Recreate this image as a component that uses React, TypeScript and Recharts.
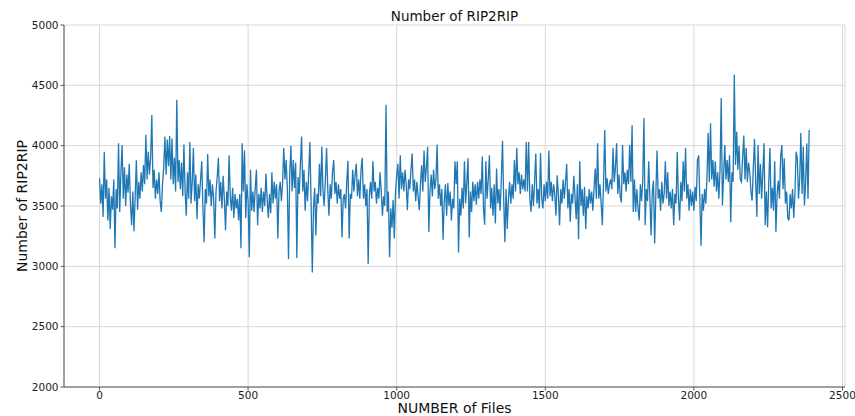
import { LineChart, Line, XAxis, YAxis, CartesianGrid } from 'recharts';

// values, one every FILE_STEP files
const FILE_STEP = 4;

const seg0 = [
	3730, 3520, 3680, 3410, 3950, 3560, 3720, 3380, 3650, 3310, 3580, 3470, 3720, 3150, 3640,
	3480, 4020, 3450, 3780, 4005, 3560, 3820, 3500, 3760, 3610, 3850, 3520, 3340, 3620, 3290,
	3580, 3880, 3470, 3700, 3560, 3780, 3620, 3840, 3680, 4090, 3720, 3950, 3760, 3900, 4255,
	3650, 3800, 3560, 3720, 3600, 3780, 3540, 3450, 3680, 3820, 4075, 3760, 4050, 3830, 4080,
];
const seg1 = [
	3720, 4060, 3680, 3900, 3620, 4380, 3700, 3880, 3640, 3860, 3580, 4010, 3620, 3420, 3780,
	3560, 4030, 3520, 3700, 3980, 3540, 3760, 3390, 3680, 3560, 3720, 3870, 3480, 3200, 3640,
	3520, 3930, 3580, 3720, 3500, 3680, 3560, 3230, 3620, 3740, 3900, 3540, 3700, 3480, 3750,
	3560, 3300, 3620, 3500, 3920, 3580, 3460, 3650, 3400, 3600, 3480, 3560, 3380, 3600, 3150,
];
const seg2 = [
	4020, 3620, 3960, 3400, 3680, 3540, 3075, 3800, 3460, 3620, 3450, 3650, 3800, 3340, 3600,
	3480, 3650, 3450, 3620, 3500, 3770, 3560, 3400, 3600, 3440, 3780, 3520, 3700, 3560, 3680,
	3230, 3620, 3700, 3540, 3690, 3980, 3720, 3880, 3650, 3060, 3750, 4000, 3620, 3880, 3650,
	3860, 3070, 3740, 3600, 3850, 4075, 3620, 3800, 3460, 3700, 3540, 3780, 4030, 3520, 2950,
];
const seg3 = [
	3480, 3650, 3255, 3600, 3520, 3850, 3580, 3990, 3620, 3500, 3720, 3980, 3640, 3420, 3680,
	3560, 3780, 3880, 3600, 3700, 3520, 3680, 3560, 3640, 3240, 3560, 3600, 3480, 3700, 3875,
	3230, 3600, 3560, 3800, 3620, 3760, 3850, 3580, 3720, 3560, 3800, 3900, 3560, 3680, 3500,
	3640, 3020, 3580, 3700, 3560, 3870, 3620, 3700, 3520, 3650, 3560, 3780, 3620, 3420, 3580,
];
const seg4 = [
	3500, 4340, 3450, 3620, 3075, 3480, 3320, 3550, 3230, 3620, 3755, 3850, 3560, 3920, 3640,
	3780, 3620, 3800, 3680, 3465, 3720, 3640, 3800, 3935, 3620, 3720, 3540, 3700, 3580, 3465,
	3680, 3840, 3620, 3960, 3700, 3820, 3990, 3285, 3620, 3760, 3580, 3800, 3640, 3720, 4010,
	3560, 3680, 3500, 3640, 3220, 3540, 3680, 3420, 3690, 3500, 3620, 3380, 3560, 3480, 3870,
];
const seg5 = [
	3680, 3870, 3115, 3560, 3420, 3650, 3480, 3870, 3520, 3700, 3895, 3240, 3620, 3450, 3700,
	3540, 3680, 3510, 3700, 3560, 3720, 3600, 3910, 3480, 3345, 3870, 3560, 3720, 3920, 3480,
	3650, 3420, 3680, 3355, 3810, 3520, 3640, 3460, 3720, 4040, 3560, 3200, 3640, 3310, 3560,
	3700, 3520, 3680, 3560, 3880, 3620, 3980, 3680, 3780, 3600, 3760, 3640, 3720, 3620, 4030,
];
const seg6 = [
	3620, 4030, 3560, 3450, 3680, 3500, 3700, 3935, 3520, 3640, 3480, 3940, 3560, 3480, 3680,
	3540, 3700, 3560, 3960, 3580, 3700, 3540, 3680, 3600, 3420, 3755, 3600, 3340, 3640, 3520,
	3720, 3560, 3700, 3850, 3480, 3640, 3370, 3600, 3520, 3750, 3580, 3390, 3680, 3225, 3870,
	3500, 3640, 3420, 3660, 3310, 3580, 3480, 3640, 3520, 3620, 3460, 3640, 3810, 3560, 4020,
];
const seg7 = [
	3560, 3680, 3520, 3340, 3700, 4130, 3620, 3730, 3600, 3680, 3720, 3640, 3980, 3700, 3820,
	4020, 3600, 3760, 3580, 3530, 4005, 3680, 3780, 3620, 3800, 3680, 4005, 3700, 4170, 3450,
	3720, 3450, 3640, 3480, 3380, 3680, 3540, 3720, 4230, 3340, 3640, 3540, 3870, 3560, 3255,
	3620, 3710, 3190, 3600, 3960, 3560, 3640, 3460, 3700, 3520, 3600, 3870, 3560, 3780, 3500,
];
const seg8 = [
	3620, 3480, 3640, 3340, 3600, 3520, 3950, 3560, 3380, 3700, 3540, 3870, 3620, 3980, 3560,
	3680, 3460, 3640, 3500, 3620, 3460, 3660, 3540, 3880, 3920, 3560, 3170, 3600, 3460, 3640,
	3520, 3730, 4105, 3700, 4185, 3720, 3880, 3660, 3870, 3620, 3780, 3560, 3800, 4395, 3505,
	3760, 4005, 3720, 3880, 3700, 3920, 3365, 3780, 3700, 4590, 3840, 4115, 3800, 4000, 3720,
];
const seg9 = [
	3700, 3900, 4085, 3720, 3980, 3700, 3860, 3780, 3620, 3545, 3820, 4055, 3700, 3410, 4005,
	3600, 3850, 3560, 3780, 4020, 3340, 3620, 3325, 3700, 3980, 3480, 3650, 3460, 3870, 3285,
	3600, 3710, 3560, 3910, 4005, 3640, 3895, 3520, 3620, 3400, 3380, 3600, 3480, 3640, 3400,
	3600, 3950, 3895, 3560, 3720, 4105, 3600, 3990, 3505, 3700, 4020, 3560, 4130,
];

const xTicks = [0, 500, 1000, 1500, 2000, 2500];
const yTicks = [2000, 2500, 3000, 3500, 4000, 4500, 5000];

const rip = [...seg0, ...seg1, ...seg2, ...seg3, ...seg4, ...seg5, ...seg6, ...seg7, ...seg8, ...seg9];
const data = rip.map((v, i) => ({ file: i * FILE_STEP, rip: v }));

const FONT = '"DejaVu Sans", sans-serif';
const tick = { fontFamily: FONT, fontSize: 10.5, fill: '#1a1a1a' };

export default function App() {
	return (
		<div style={{ position: 'absolute', left: 0, top: 0, width: 855, height: 416 }}>
			<LineChart
				width={855}
				height={416}
				data={data}
				margin={{ top: 25, right: 10, left: 0, bottom: 0 }}
			>
				<CartesianGrid stroke='#d8d8d8' strokeWidth={1} />
				<XAxis
					dataKey='file'
					type='number'
					domain={[-119.5, 2508.5]}
					ticks={xTicks}
					allowDataOverflow
					height={29}
					tick={tick}
					tickSize={3.5}
					stroke='#555'
					tickMargin={1}
				/>
				<YAxis
					type='number'
					domain={[2000, 5000]}
					ticks={yTicks}
					allowDataOverflow
					width={64}
					tick={tick}
					tickSize={3.5}
					stroke='#555'
					tickMargin={2}
				/>
				<Line
					type='linear'
					dataKey='rip'
					stroke='#1f77b4'
					strokeWidth={1.3}
					dot={false}
					isAnimationActive={false}
				/>
			</LineChart>
			<div
				style={{
					position: 'absolute', left: 64, width: 781, top: 8, textAlign: 'center',
					fontFamily: FONT, fontSize: 13.5, color: '#111', lineHeight: '16px',
				}}
			>
				Number of RIP2RIP
			</div>
			<div
				style={{
					position: 'absolute', left: 64, width: 781, top: 401, textAlign: 'center',
					fontFamily: FONT, fontSize: 14, color: '#111', lineHeight: '15px',
				}}
			>
				NUMBER of Files
			</div>
			<div
				style={{
					position: 'absolute', left: 22, top: 206, width: 200, marginLeft: -100,
					textAlign: 'center', transform: 'translateY(-50%) rotate(-90deg)',
					fontFamily: FONT, fontSize: 14, color: '#111', lineHeight: '16px',
				}}
			>
				Number of RIP2RIP
			</div>
		</div>
	);
}
